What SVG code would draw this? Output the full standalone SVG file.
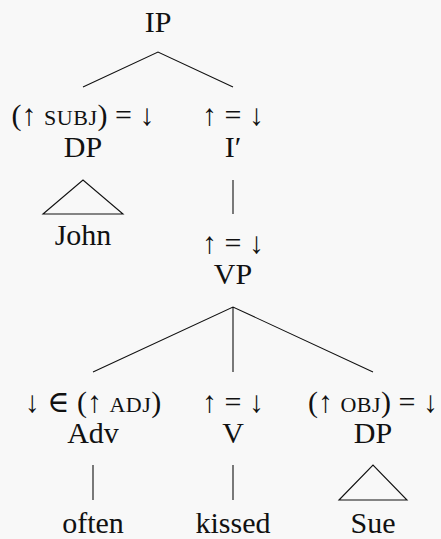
<svg xmlns="http://www.w3.org/2000/svg" width="441" height="539" viewBox="0 0 441 539">
<style>
.t{font-size:30px;fill:#111;text-anchor:middle}
.sc{font-size:22px;letter-spacing:0.5px}
.e{stroke:#111;stroke-width:1.1;fill:none}
</style>
<rect width="441" height="539" fill="#f8f8f8"/>
<g id="connectors">
<path class="e" d="M83,87 L158,52 L233,87"/>
<path class="e" d="M43,214 L83,180 L123,214 Z"/>
<path class="e" d="M233,180 L233,214"/>
<path class="e" d="M93,372 L233,307 L373,372 M233,307 L233,372"/>
<path class="e" d="M93,465 L93,500 M233,465 L233,500"/>
<path class="e" d="M339,500 L373,465 L407,500 Z"/>
</g>
<g class="t" font-family="'Liberation Serif', 'DejaVu Serif', serif">
<g id="IP"><text x="158" y="32">IP</text></g>
<g id="DP1"><text x="83" y="125">(↑ <tspan class="sc">SUBJ</tspan>) = ↓</text><text x="83" y="157">DP</text></g>
<g id="John"><text x="83" y="245">John</text></g>
<g id="Ibar"><text x="233" y="125">↑ = ↓</text><text x="233" y="157">I′</text></g>
<g id="VP"><text x="233" y="253">↑ = ↓</text><text x="233" y="284">VP</text></g>
<g id="Adv"><text x="93" y="412">↓ ∈ (↑ <tspan class="sc">ADJ</tspan>)</text><text x="93" y="443">Adv</text></g>
<g id="V"><text x="233" y="412">↑ = ↓</text><text x="233" y="443">V</text></g>
<g id="DP2"><text x="373" y="412">(↑ <tspan class="sc">OBJ</tspan>) = ↓</text><text x="373" y="443">DP</text></g>
<g id="often"><text x="93" y="533">often</text></g>
<g id="kissed"><text x="233" y="533">kissed</text></g>
<g id="Sue"><text x="373" y="533">Sue</text></g>
</g>
</svg>
